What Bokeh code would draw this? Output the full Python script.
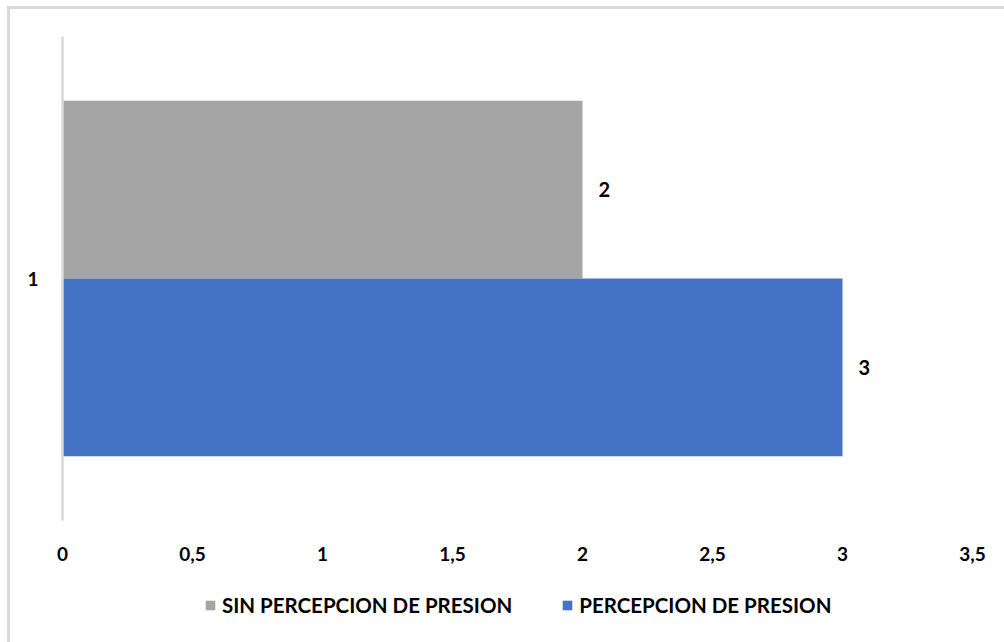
from bokeh.plotting import figure
from bokeh.layouts import column
from bokeh.models import (FactorRange, Range1d, FixedTicker, Legend, LegendItem,
                          ColumnDataSource)
from bokeh.core.properties import value
from bokeh.transform import dodge
from bokeh.embed import file_html
from bokeh.resources import INLINE

# data
categories = ["1"]
series_names = ["SIN PERCEPCION DE PRESION", "PERCEPCION DE PRESION"]
sin_presion = [2]
con_presion = [3]
x_ticks = [0, 0.5, 1, 1.5, 2, 2.5, 3, 3.5]
x_tick_labels = ["0", "0,5", "1", "1,5", "2", "2,5", "3", "3,5"]

GRAY = "#a5a5a5"
BLUE = "#4472c4"
FONT = "Lato"
W = 994

p = figure(
    width=W, height=576,
    y_range=FactorRange(factors=categories, range_padding=0),
    x_range=Range1d(0, 3.5),
    output_backend="svg", toolbar_location=None,
    min_border_left=52, min_border_right=32, min_border_top=27, min_border_bottom=65,
)
p.outline_line_color = None
p.xgrid.grid_line_color = None
p.ygrid.grid_line_color = None

src_sin = ColumnDataSource(dict(cat=categories, val=sin_presion, lbl=[str(v) for v in sin_presion]))
src_con = ColumnDataSource(dict(cat=categories, val=con_presion, lbl=[str(v) for v in con_presion]))

bar_h = 0.367
p.hbar(y=dodge("cat", bar_h / 2, range=p.y_range), left=0, right="val", height=bar_h,
       source=src_sin, fill_color=GRAY, line_color=None)
p.hbar(y=dodge("cat", -bar_h / 2, range=p.y_range), left=0, right="val", height=bar_h,
       source=src_con, fill_color=BLUE, line_color=None)

# value labels at the end of each bar
for src, off in ((src_sin, bar_h / 2), (src_con, -bar_h / 2)):
    p.text(x="val", y=dodge("cat", off, range=p.y_range), text="lbl", source=src,
           x_offset=16, text_align="left", text_baseline="middle",
           text_font=value(FONT), text_font_style="bold", text_font_size="20px",
           text_color="#000000")

# axes
p.xaxis.ticker = FixedTicker(ticks=x_ticks)
p.xaxis.major_label_overrides = {t: l for t, l in zip(x_ticks, x_tick_labels)}
p.xaxis.axis_line_color = None
p.xaxis.major_tick_line_color = None
p.xaxis.minor_tick_line_color = None
p.xaxis.major_label_standoff = 20
p.xaxis.major_label_text_font = FONT
p.xaxis.major_label_text_font_style = "bold"
p.xaxis.major_label_text_font_size = "19px"
p.xaxis.major_label_text_color = "#000000"

p.yaxis.axis_line_color = "#d9d9d9"
p.yaxis.axis_line_width = 2.5
p.yaxis.major_tick_line_color = None
p.yaxis.minor_tick_line_color = None
p.yaxis.major_label_standoff = 18
p.yaxis.major_label_text_font = FONT
p.yaxis.major_label_text_font_style = "bold"
p.yaxis.major_label_text_font_size = "19px"
p.yaxis.major_label_text_color = "#000000"

# legend strip under the chart (its frame is aligned with the chart's frame)
leg = figure(width=W, height=57, output_backend="svg", toolbar_location=None,
             min_border=0, x_range=Range1d(0, 3.5),
             y_range=FactorRange(factors=categories))
leg.axis.visible = False
leg.grid.visible = False
leg.outline_line_color = None
# zero-height bars: they only supply the legend swatches
g_sin = leg.hbar(y="cat", right="val", height=0, source=src_sin,
                 fill_color=GRAY, line_color=None)
g_con = leg.hbar(y="cat", right="val", height=0, source=src_con,
                 fill_color=BLUE, line_color=None)
legend = Legend(
    items=[LegendItem(label=series_names[0], renderers=[g_sin]),
           LegendItem(label=series_names[1], renderers=[g_con])],
    orientation="horizontal", location=(142, 25),
    padding=0, margin=0, spacing=49,
    glyph_width=12, glyph_height=12, label_standoff=6,
    label_text_font=FONT, label_text_font_style="bold", label_text_font_size="20.5px",
    label_text_color="#000000",
    border_line_color=None, background_fill_alpha=0,
)
leg.add_layout(legend, "center")

layout = column(p, leg, spacing=0)
layout.styles = {
    "margin-left": "7px", "margin-top": "6px",
    "border-left": "3px solid #d9d9d9", "border-top": "3px solid #d9d9d9",
}

open("out.html", "w").write(file_html(layout, INLINE))
